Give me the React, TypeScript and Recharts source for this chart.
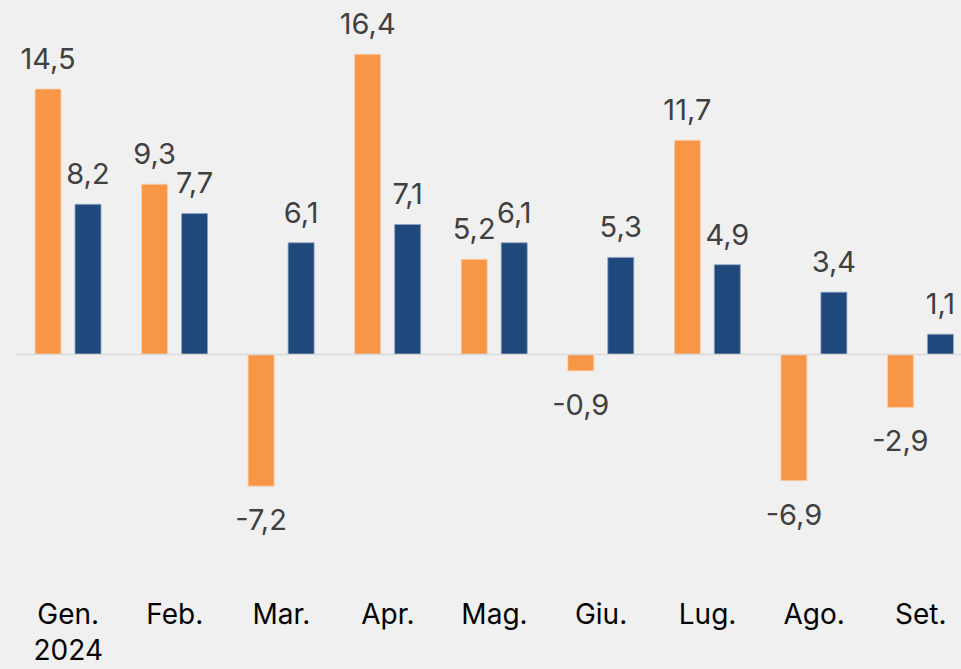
import { Bar, BarChart, LabelList, ReferenceLine, XAxis, YAxis } from "recharts";

const CATEGORIES = ["Gen.", "Feb.", "Mar.", "Apr.", "Mag.", "Giu.", "Lug.", "Ago.", "Set."];
const SUB_LABELS = ["2024", "", "", "", "", "", "", "", ""];
const ORANGE_VALUES = [14.5, 9.3, -7.2, 16.4, 5.2, -0.9, 11.7, -6.9, -2.9];
const BLUE_VALUES = [8.2, 7.7, 6.1, 7.1, 6.1, 5.3, 4.9, 3.4, 1.1];

const data = CATEGORIES.map((name, i) => ({
  name,
  sub: SUB_LABELS[i],
  orange: ORANGE_VALUES[i],
  blue: BLUE_VALUES[i],
}));

const FONT = "Inter, 'Liberation Sans', sans-serif";

const fmt = (v: number) => v.toFixed(1).replace(".", ",");

function ValueLabel(props: any) {
  const { x, y, width, height, value } = props;
  const top = Math.min(y, y + height);
  const bottom = Math.max(y, y + height);
  const cx = x + width / 2;
  const ty = value >= 0 ? top - 20 : bottom + 44;
  return (
    <text x={cx} y={ty} textAnchor="middle" fill="#404040" fontSize={29} fontFamily={FONT}>
      {fmt(value)}
    </text>
  );
}

function CategoryTick(props: any) {
  const { x, y, payload, index } = props;
  const sub = SUB_LABELS[index];
  return (
    <g>
      <text x={x} y={y + 42} textAnchor="middle" fill="#000" fontSize={28} fontFamily={FONT}>
        {payload.value}
      </text>
      {sub ? (
        <text x={x} y={y + 78} textAnchor="middle" fill="#000" fontSize={28} fontFamily={FONT}>
          {sub}
        </text>
      ) : null}
    </g>
  );
}

export default function App() {
  return (
    <div
      style={{
        position: "absolute",
        left: 0,
        top: 0,
        width: 961,
        height: 669,
        overflow: "hidden",
        background: "#F0F0F0",
      }}
    >
      <BarChart
        width={974}
        height={669}
        data={data}
        margin={{ top: 25, right: 0, bottom: 0, left: 15 }}
        barGap={14}
        barCategoryGap={20}
      >
        <XAxis
          dataKey="name"
          height={95}
          axisLine={false}
          tickLine={false}
          interval={0}
          tick={<CategoryTick />}
        />
        <YAxis hide domain={[-12, 18]} />
        <ReferenceLine y={0} stroke="#D9D9D9" strokeWidth={1.5} />
        <Bar dataKey="orange" fill="#F79646" stroke="#FAD2B0" strokeWidth={0.8} isAnimationActive={false}>
          <LabelList dataKey="orange" content={<ValueLabel />} />
        </Bar>
        <Bar dataKey="blue" fill="#1F497D" stroke="#8FA4BE" strokeWidth={0.8} isAnimationActive={false}>
          <LabelList dataKey="blue" content={<ValueLabel />} />
        </Bar>
      </BarChart>
    </div>
  );
}
